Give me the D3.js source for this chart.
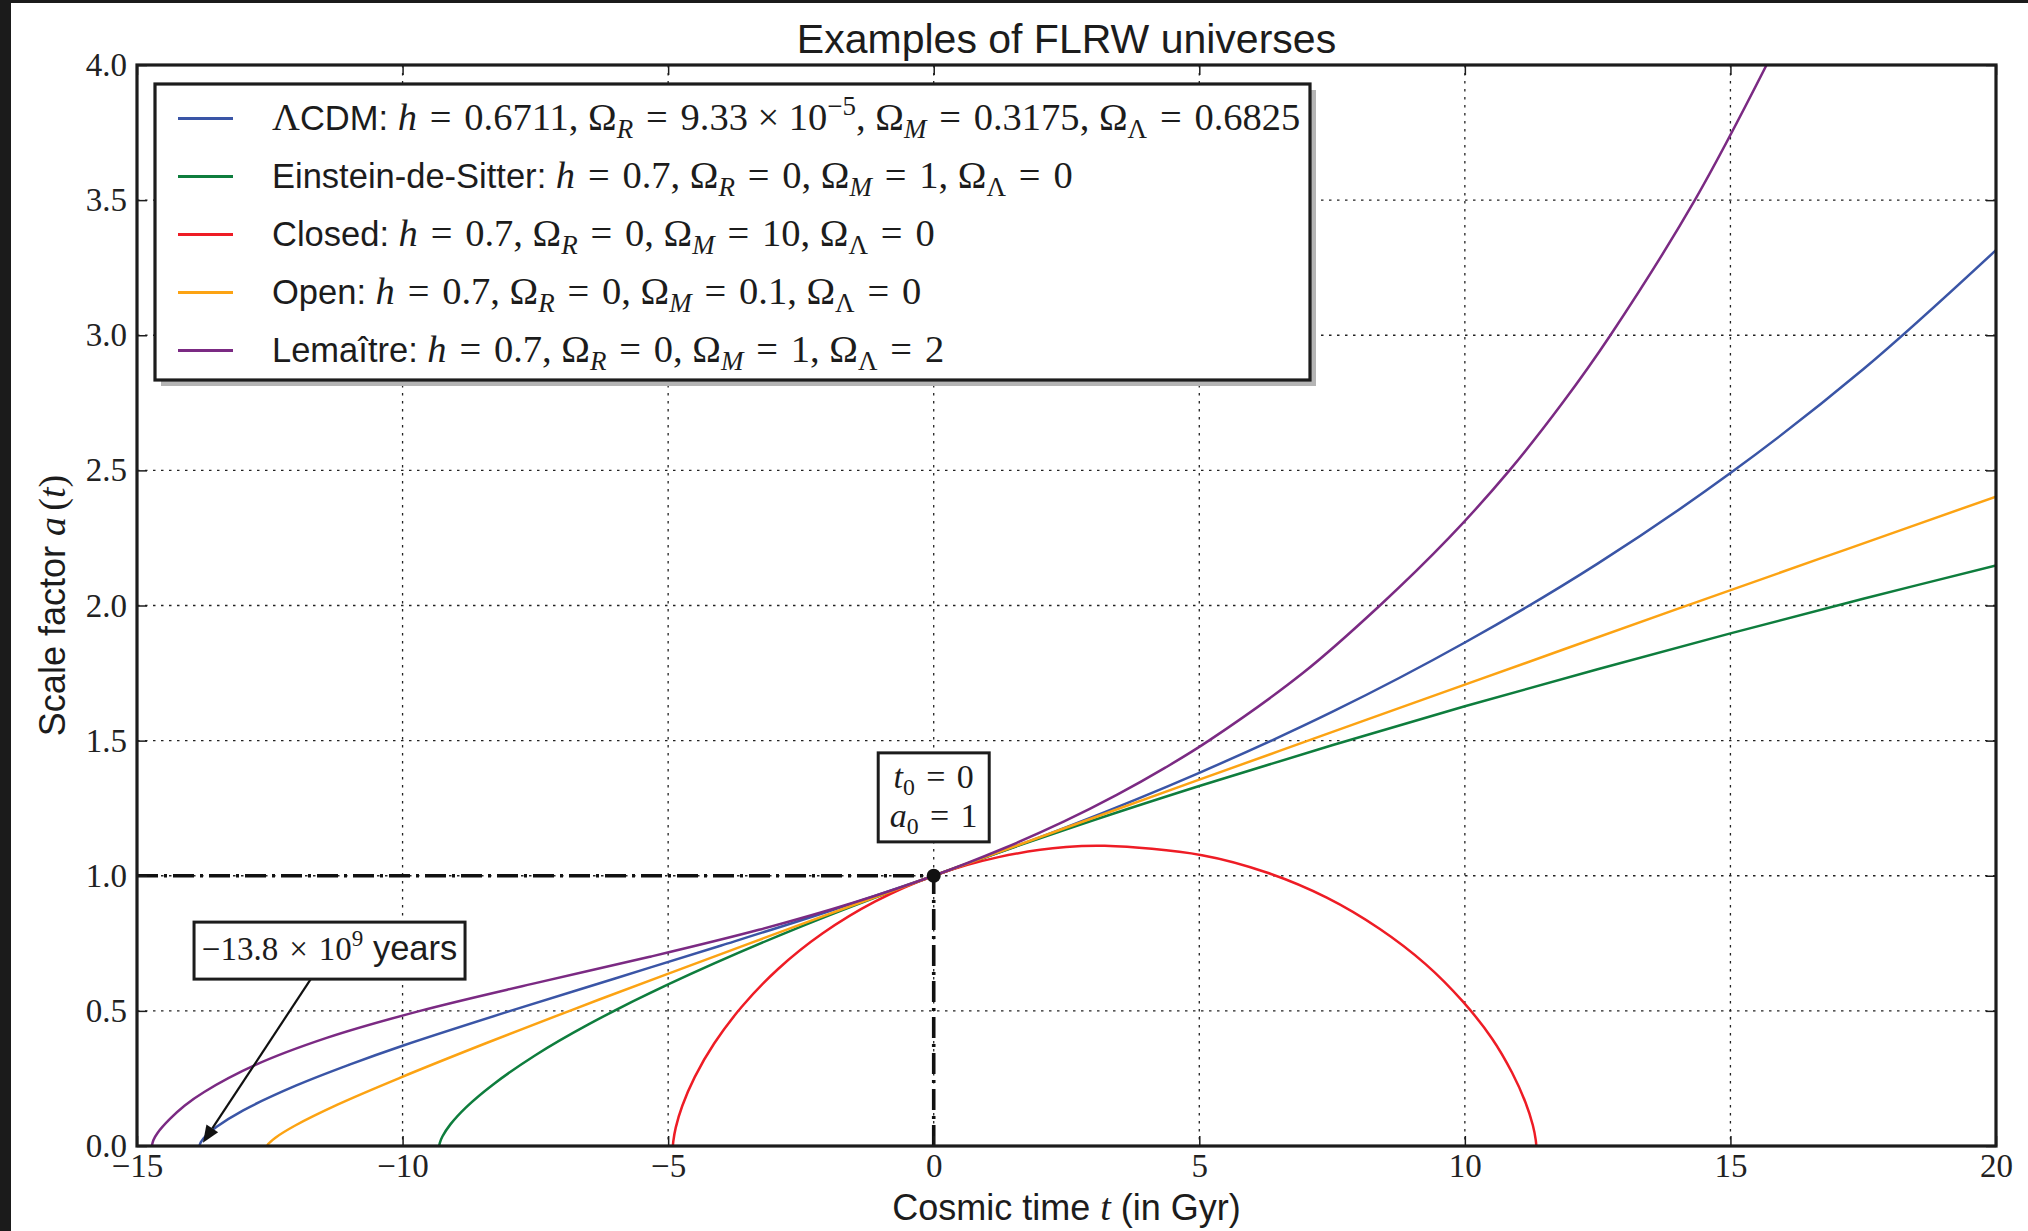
<!DOCTYPE html>
<html>
<head>
<meta charset="utf-8">
<script src="https://cdn.jsdelivr.net/npm/d3@7"></script>
<style>
  body { margin: 0; background: #fff; }
  text { white-space: pre; }
</style>
</head>
<body>
<svg id="chart" width="2028" height="1231"></svg>
<script>
// axis ranges and ticks
const xTicks = [-15, -10, -5, 0, 5, 10, 15, 20];
const yTicks = [0, 0.5, 1, 1.5, 2, 2.5, 3, 3.5, 4];

// models shown in the legend
const names = ["ΛCDM", "Einstein-de-Sitter", "Closed", "Open", "Lemaître"];
const hubble = [0.6711, 0.7, 0.7, 0.7, 0.7];
const omegaR = [9.33e-5, 0, 0, 0, 0];
const omegaM = [0.3175, 1, 10, 0.1, 1];
const omegaL = [0.6825, 0, 0, 0, 2];
const colors = ["#3a55a6", "#0e7d3d", "#ee1c25", "#fca313", "#7b2a83"];

// scale factor a(t), t in Gyr from today
const lcdm = [[-13.825, 0], [-13.8, 0.013], [-13.7, 0.038], [-13.5, 0.071], [-13, 0.132], [-12, 0.224],
  [-11, 0.301], [-10, 0.371], [-8, 0.498], [-6, 0.62], [-4, 0.742], [-2, 0.867], [0, 1], [2.5, 1.18],
  [5, 1.381], [7.5, 1.606], [10, 1.863], [12.5, 2.155], [15, 2.49], [17.5, 2.874], [20, 3.315]];
const eds = [[-9.31, 0], [-9.3, 0.011], [-9.25, 0.035], [-9.1, 0.08], [-8.8, 0.144], [-8.3, 0.227],
  [-7.5, 0.336], [-6.5, 0.45], [-5, 0.598], [-2.5, 0.812], [0, 1], [2.5, 1.172], [5, 1.332],
  [7.5, 1.483], [10, 1.627], [12.5, 1.764], [15, 1.897], [17.5, 2.025], [20, 2.148]];
const closed = [[-4.91, 0], [-4.903, 0.017], [-4.857, 0.068], [-4.733, 0.149], [-4.5, 0.255], [-4.131, 0.38],
  [-3.61, 0.516], [-2.93, 0.655], [-2.09, 0.787], [-1.1, 0.905], [0, 1], [1.22, 1.069], [2.49, 1.106],
  [3.22, 1.111], [5.05, 1.076], [6.27, 1.012], [7.4, 0.919], [8.4, 0.803], [9.26, 0.673], [9.96, 0.535],
  [10.51, 0.398], [10.89, 0.271], [11.14, 0.162], [11.28, 0.077], [11.335, 0.022], [11.345, 0]];
const open = [[-12.546, 0], [-12.53, 0.007], [-12.4, 0.03], [-12.03, 0.075], [-11.215, 0.154], [-10.04, 0.253],
  [-8.42, 0.381], [-6.805, 0.504], [-5.146, 0.627], [-2.5, 0.82], [0, 1], [2.62, 1.187], [6.51, 1.462],
  [10, 1.707], [14.07, 1.992], [17.17, 2.207], [20, 2.403]];
const lemaitre = [[-14.72, 0], [-14.69, 0.022], [-14.61, 0.049], [-14.38, 0.1], [-14.1, 0.15], [-13.735, 0.2],
  [-12.77, 0.3], [-11.43, 0.4], [-9.67, 0.5], [-7.56, 0.6], [-5.345, 0.7], [-3.29, 0.8], [-1.516, 0.9],
  [0, 1], [1.3, 1.1], [2.445, 1.2], [3.455, 1.3], [4.36, 1.4], [5.18, 1.5], [6.95, 1.75], [8.4, 2],
  [9.7, 2.25], [10.84, 2.5], [11.84, 2.75], [12.74, 3], [14.33, 3.5], [15.68, 4]];
const curves = [lcdm, eds, closed, open, lemaitre];

// annotations
const today = [0, 1];
const bigBang = -13.8;

const SANS = "'Liberation Sans', Arial, Helvetica, sans-serif";
const SERIF = "'Liberation Serif', 'Times New Roman', serif";
const EQ = "\u2004=\u2004";
const TIMES = "\u2005×\u2005";
const INK = "#1c1c1c";

const svg = d3.select("#chart");
const plot = { left: 137, top: 65, right: 1996, bottom: 1146 };

const x = d3.scaleLinear().domain([-15, 20]).range([plot.left, plot.right]);
const y = d3.scaleLinear().domain([0, 4]).range([plot.bottom, plot.top]);

// writes a run of sans / roman / italic pieces with sub- and superscripts
function drawRuns(text, parts, sizes) {
  let shift = 0;
  parts.forEach(p => {
    const base = p.k === "sans" ? sizes.sans : sizes.math;
    const want = p.sub ? base * 0.22 : p.sup ? -base * 0.4 : 0;
    const ts = text.append("tspan")
      .attr("font-family", p.k === "sans" ? SANS : SERIF)
      .attr("font-style", p.k === "it" ? "italic" : "normal")
      .attr("font-size", (p.sub || p.sup) ? base * 0.7 : base)
      .text(p.s);
    if (want !== shift) { ts.attr("dy", want - shift); shift = want; }
  });
}

svg.append("rect").attr("width", 2028).attr("height", 1231).attr("fill", "#fff");
svg.append("rect").attr("width", 11).attr("height", 1231).attr("fill", "#1b1b1b");
svg.append("rect").attr("width", 2028).attr("height", 3).attr("fill", "#1b1b1b");

// grid
const grid = svg.append("g").attr("stroke", "#222").attr("stroke-width", 1.3).attr("stroke-dasharray", "2.5,5.5");
grid.selectAll(".gx").data(xTicks).join("line")
  .attr("x1", d => x(d)).attr("x2", d => x(d)).attr("y1", plot.top).attr("y2", plot.bottom);
grid.selectAll(".gy").data(yTicks).join("line")
  .attr("y1", d => y(d)).attr("y2", d => y(d)).attr("x1", plot.left).attr("x2", plot.right);

// dash-dot guides to today's point
const guide = svg.append("g").attr("stroke", "#111").attr("stroke-width", 3.6)
  .attr("stroke-dasharray", "21,6,3,6").attr("fill", "none");
guide.append("line").attr("x1", x(-15)).attr("x2", x(today[0])).attr("y1", y(today[1])).attr("y2", y(today[1]));
guide.append("line").attr("x1", x(today[0])).attr("x2", x(today[0])).attr("y1", y(0)).attr("y2", y(today[1]));

// curves
svg.append("clipPath").attr("id", "clip").append("rect")
  .attr("x", plot.left).attr("y", plot.top)
  .attr("width", plot.right - plot.left).attr("height", plot.bottom - plot.top);

const line = d3.line().x(d => x(d[0])).y(d => y(d[1])).curve(d3.curveCatmullRom.alpha(0.5));
svg.append("g").attr("clip-path", "url(#clip)")
  .selectAll("path").data(curves).join("path")
  .attr("d", line).attr("fill", "none")
  .attr("stroke", (d, i) => colors[i]).attr("stroke-width", 2.5);

// axes: inward ticks on all four sides
function styleAxis(g) {
  g.select(".domain").remove();
  g.selectAll(".tick line").attr("stroke", INK).attr("stroke-width", 1.5);
  g.selectAll(".tick text").attr("font-family", SERIF).attr("font-size", 33).attr("fill", "#222");
}
svg.append("g").attr("transform", `translate(0,${plot.bottom})`)
  .call(d3.axisBottom(x).tickValues(xTicks).tickSize(-10).tickPadding(8).tickFormat(d3.format("d")))
  .call(styleAxis);
svg.append("g").attr("transform", `translate(0,${plot.top})`)
  .call(d3.axisTop(x).tickValues(xTicks).tickSize(-10).tickFormat(""))
  .call(styleAxis);
svg.append("g").attr("transform", `translate(${plot.left},0)`)
  .call(d3.axisLeft(y).tickValues(yTicks).tickSize(-10).tickPadding(10).tickFormat(d3.format(".1f")))
  .call(styleAxis);
svg.append("g").attr("transform", `translate(${plot.right},0)`)
  .call(d3.axisRight(y).tickValues(yTicks).tickSize(-10).tickFormat(""))
  .call(styleAxis);

svg.append("rect").attr("x", plot.left).attr("y", plot.top)
  .attr("width", plot.right - plot.left).attr("height", plot.bottom - plot.top)
  .attr("fill", "none").attr("stroke", INK).attr("stroke-width", 3.2);

// title and axis labels
svg.append("text").attr("x", (plot.left + plot.right) / 2).attr("y", 53)
  .attr("text-anchor", "middle").attr("font-family", SANS).attr("font-size", 41).attr("fill", INK)
  .text("Examples of FLRW universes");

const xl = svg.append("text").attr("x", (plot.left + plot.right) / 2).attr("y", 1220)
  .attr("text-anchor", "middle").attr("fill", INK);
drawRuns(xl, [{ s: "Cosmic time ", k: "sans" }, { s: "t", k: "it" }, { s: " (in Gyr)", k: "sans" }], { sans: 36, math: 38 });

const yl = svg.append("text").attr("transform", `translate(65,${(plot.top + plot.bottom) / 2}) rotate(-90)`)
  .attr("text-anchor", "middle").attr("fill", INK);
drawRuns(yl, [{ s: "Scale factor ", k: "sans" }, { s: "a", k: "it" }, { s: "\u2006(", k: "rm" }, { s: "t", k: "it" }, { s: ")", k: "rm" }], { sans: 36, math: 38 });

// legend
const num = d3.format("~g");
function pushValue(p, v) {
  if (v !== 0 && Math.abs(v) < 1e-3) {
    const e = Math.floor(Math.log10(v));
    p.push({ s: EQ + d3.format(".3~g")(v / Math.pow(10, e)) + TIMES + "10", k: "rm" });
    p.push({ s: "−" + Math.abs(e), k: "rm", sup: true });
  } else {
    p.push({ s: EQ + num(v), k: "rm" });
  }
}
function legendParts(i) {
  const p = [];
  names[i].split(/(Λ)/).filter(s => s).forEach(s => p.push({ s, k: s === "Λ" ? "rm" : "sans" }));
  p.push({ s: ": ", k: "sans" });
  p.push({ s: "h", k: "it" }, { s: EQ + num(hubble[i]) + ", ", k: "rm" });
  p.push({ s: "Ω", k: "rm" }, { s: "R", k: "it", sub: true });
  pushValue(p, omegaR[i]);
  p.push({ s: ", Ω", k: "rm" }, { s: "M", k: "it", sub: true });
  pushValue(p, omegaM[i]);
  p.push({ s: ", Ω", k: "rm" }, { s: "Λ", k: "rm", sub: true });
  pushValue(p, omegaL[i]);
  return p;
}

const leg = { x: 155, y: 84, w: 1155, h: 296, row0: 118.5, step: 58 };
svg.append("rect").attr("x", leg.x + 6).attr("y", leg.y + 6).attr("width", leg.w).attr("height", leg.h)
  .attr("fill", "#b4b4b4");
svg.append("rect").attr("x", leg.x).attr("y", leg.y).attr("width", leg.w).attr("height", leg.h)
  .attr("fill", "#fff").attr("stroke", INK).attr("stroke-width", 3.2);

const rows = svg.append("g").selectAll("g").data(names).join("g")
  .attr("transform", (d, i) => `translate(0,${leg.row0 + i * leg.step})`);
rows.append("line").attr("x1", 178).attr("x2", 233).attr("y1", 0).attr("y2", 0)
  .attr("stroke", (d, i) => colors[i]).attr("stroke-width", 3);
rows.append("text").attr("x", 272).attr("y", 11.5).attr("fill", INK)
  .each(function (d, i) { drawRuns(d3.select(this), legendParts(i), { sans: 34.5, math: 38.5 }); });

// annotation: today's point
function textBox(cx, cy, w, h) {
  svg.append("rect").attr("x", cx - w / 2).attr("y", cy - h / 2).attr("width", w).attr("height", h)
    .attr("fill", "#fff").attr("stroke", INK).attr("stroke-width", 3);
}
const boxT = { cx: x(today[0]), cy: y(1.29), w: 111, h: 89 };
textBox(boxT.cx, boxT.cy, boxT.w, boxT.h);
[["t", "0"], ["a", String(today[1])]].forEach((pair, k) => {
  const t = svg.append("text").attr("x", boxT.cx).attr("y", boxT.cy - 9.5 + k * 39)
    .attr("text-anchor", "middle").attr("fill", INK);
  drawRuns(t, [{ s: pair[0], k: "it" }, { s: "0", k: "rm", sub: true }, { s: EQ + pair[1], k: "rm" }], { math: 34 });
});

// annotation: age of the universe with arrow
const boxB = { cx: x(-11.375), cy: y(0.723), w: 271, h: 57 };
const tip = [x(bigBang), y(0)];
let dxA = tip[0] - boxB.cx, dyA = tip[1] - boxB.cy;
const exitK = Math.min((boxB.w / 2) / Math.abs(dxA), (boxB.h / 2) / Math.abs(dyA));
const start = [boxB.cx + dxA * exitK, boxB.cy + dyA * exitK];
const len = Math.hypot(tip[0] - start[0], tip[1] - start[1]);
const ux = (tip[0] - start[0]) / len, uy = (tip[1] - start[1]) / len;
const end = [tip[0] - ux * 4, tip[1] - uy * 4];
const headL = 17, headW = 7;
const base = [end[0] - ux * headL, end[1] - uy * headL];
svg.append("line").attr("x1", start[0]).attr("y1", start[1]).attr("x2", base[0]).attr("y2", base[1])
  .attr("stroke", "#111").attr("stroke-width", 2.2);
svg.append("polygon").attr("fill", "#111")
  .attr("points", [end, [base[0] - uy * headW, base[1] + ux * headW], [base[0] + uy * headW, base[1] - ux * headW]].map(p => p.join(",")).join(" "));

textBox(boxB.cx, boxB.cy, boxB.w, boxB.h);
const tb = svg.append("text").attr("x", boxB.cx).attr("y", boxB.cy + 9).attr("text-anchor", "middle").attr("fill", INK);
drawRuns(tb, [{ s: "−" + Math.abs(bigBang) + "\u2004×\u2004" + "10", k: "rm" }, { s: "9", k: "rm", sup: true }, { s: " years", k: "sans" }], { sans: 34.5, math: 33 });

svg.append("circle").attr("cx", x(today[0])).attr("cy", y(today[1])).attr("r", 7).attr("fill", "#111");
</script>
</body>
</html>
